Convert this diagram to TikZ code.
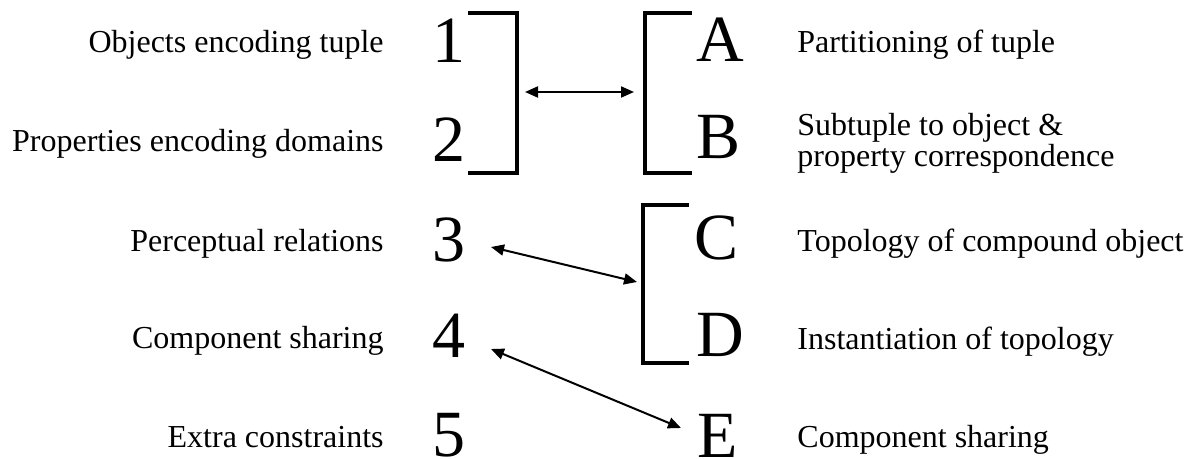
\documentclass[tikz,border=0pt]{standalone}
\usepackage{fontspec}
\setmainfont{Liberation Serif}
\usetikzlibrary{arrows.meta}
\begin{document}
\begin{tikzpicture}[x=0.5pt,y=-0.5pt,
  lbl/.style={font=\fontsize{16pt}{16pt}\selectfont, inner sep=0pt},
  lbll/.style={lbl, anchor=base east},
  lblr/.style={lbl, anchor=base west},
  big/.style={font=\fontsize{33pt}{33pt}\selectfont, inner sep=0pt},
  brk/.style={line width=2pt, line cap=butt},
  link/.style={line width=1pt, {Triangle[length=6.5pt,width=5.5pt]}-{Triangle[length=6.5pt,width=5.5pt]}}]
\useasboundingbox (0,0) rectangle (1190,459);
% left labels
\node[lbll] (l1) at (384,53) {Objects encoding tuple};
\node[lbll] (l2) at (384,152) {Properties encoding domains};
\node[lbll] (l3) at (384,252) {Perceptual relations};
\node[lbll] (l4) at (384,349) {Component sharing};
\node[lbll] (l5) at (384,448) {Extra constraints};
% digits
\node[big, anchor=base] (n1) at (449,63) {1};
\node[big, anchor=base] (n2) at (449,162) {2};
\node[big, anchor=base] (n3) at (449,262) {3};
\node[big, anchor=base] (n4) at (449,358) {4};
\node[big, anchor=base] (n5) at (449,457) {5};
% letters
\node[big, anchor=base west] (A) at (696,62) {A};
\node[big, anchor=base west] (B) at (696,159) {B};
\node[big, anchor=base west] (C) at (694,260) {C};
\node[big, anchor=base west] (D) at (696,357) {D};
\node[big, anchor=base west] (E) at (697,458) {E};
% right labels
\node[lblr] (rA) at (797,53) {Partitioning of tuple};
\node[lblr] (rB1) at (797,136) {Subtuple to object \&};
\node[lblr] (rB2) at (797,167) {property correspondence};
\node[lblr] (rC) at (797,252) {Topology of compound object};
\node[lblr] (rD) at (797,350) {Instantiation of topology};
\node[lblr] (rE) at (797,448) {Component sharing};
% brackets
\draw[brk] (468,13) -- (517,13) -- (517,173) -- (468,173);
\draw[brk] (692,13) -- (645,13) -- (645,173) -- (692,173);
\draw[brk] (689,205) -- (643,205) -- (643,363) -- (689,363);
% arrow end points
\coordinate (b12) at (525,92);
\coordinate (bAB) at (634,92);
\coordinate (s3) at (491,247);
\coordinate (bCD) at (637,282);
\coordinate (s4) at (491,349);
\coordinate (eE) at (681,428);
\draw[link] (b12) -- (bAB);
\draw[link] (s3) -- (bCD);
\draw[link] (s4) -- (eE);
\end{tikzpicture}
\end{document}
